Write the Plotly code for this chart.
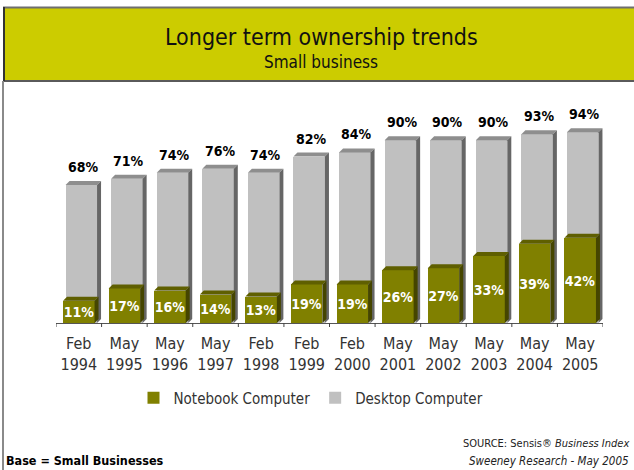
import plotly.graph_objects as go

# --- data -------------------------------------------------------------
periods = ["Feb<br>1994", "May<br>1995", "May<br>1996", "May<br>1997", "Feb<br>1998",
           "Feb<br>1999", "Feb<br>2000", "May<br>2001", "May<br>2002", "May<br>2003",
           "May<br>2004", "May<br>2005"]
notebook = [11, 17, 16, 14, 13, 19, 19, 26, 27, 33, 39, 42]
desktop = [68, 71, 74, 76, 74, 82, 84, 90, 90, 90, 93, 94]

# --- page geometry (pixels) ---------------------------------------------
FW, FH = 634, 470
L, R, T, B = 56, 31, 120, 147
PW, PH = FW - L - R, FH - T - B
YMAX = 100.0


def px_x(px):
    return (px - L) / PW


def px_y(py):
    return (FH - B - py) / PH


FONT = "Liberation Sans Narrow, DejaVu Sans Condensed, Arial Narrow, sans-serif"

# 3D look: depth of the extruded faces, expressed in data units
n = len(periods)
xs = list(range(n))
unit_x = PW / n            # px per category
unit_y = PH / YMAX         # px per percent
DX = 4 / unit_x
DY = 4 / unit_y
BW = 31.5 / unit_x         # bar width
BACK = 2.5 / unit_x        # desktop series sits slightly behind

C_NB = dict(front="#808000", top="#5f5f00", side="#454500")
C_DT = dict(front="#c0c0c0", top="#8e8e8e", side="#666666")

fig = go.Figure()

# front faces
fig.add_trace(go.Bar(
    x=[i + BACK for i in xs], y=desktop, width=BW, name="Desktop Computer",
    marker=dict(color=C_DT["front"], line=dict(width=0)), hoverinfo="skip",
))
fig.add_trace(go.Bar(
    x=xs, y=notebook, width=BW, name="Notebook Computer",
    marker=dict(color=C_NB["front"], line=dict(width=0)),
    text=[f"<b>{v}%</b>" for v in notebook], textposition="inside",
    insidetextanchor="middle", textangle=0, constraintext="none",
    textfont=dict(color="white", size=14, family=FONT), hoverinfo="skip",
))


def add_faces(centers, values, colors):
    for c, v in zip(centers, values):
        x0, x1 = c - BW / 2, c + BW / 2
        # top face
        fig.add_trace(go.Scatter(
            x=[x0, x1, x1 + DX, x0 + DX, x0], y=[v, v, v + DY, v + DY, v],
            mode="lines", fill="toself", fillcolor=colors["top"],
            line=dict(width=0, color=colors["top"]), showlegend=False, hoverinfo="skip",
        ))
        # side face
        fig.add_trace(go.Scatter(
            x=[x1, x1 + DX, x1 + DX, x1, x1], y=[0, DY, v + DY, v, 0],
            mode="lines", fill="toself", fillcolor=colors["side"],
            line=dict(width=0, color=colors["side"]), showlegend=False, hoverinfo="skip",
        ))


add_faces([i + BACK for i in xs], desktop, C_DT)
add_faces(xs, notebook, C_NB)

# totals above the desktop bars
annotations = []
for i, v in zip(xs, desktop):
    annotations.append(dict(
        x=i + BACK + DX / 2, y=v, xref="x", yref="y", text=f"<b>{v}%</b>",
        showarrow=False, yanchor="bottom", yshift=8,
        font=dict(family=FONT, size=14, color="black"),
    ))

# header and footer texts
annotations += [
    dict(x=px_x(321), y=px_y(37), xref="paper", yref="paper",
         text="Longer term ownership trends", showarrow=False,
         font=dict(family=FONT, size=23, color="#111111"), xanchor="center", yanchor="middle"),
    dict(x=px_x(321), y=px_y(62), xref="paper", yref="paper",
         text="Small business", showarrow=False,
         font=dict(family=FONT, size=17, color="#111111"), xanchor="center", yanchor="middle"),
    dict(x=px_x(4), y=px_y(461), xref="paper", yref="paper",
         text="<b>Base = Small Businesses</b>", showarrow=False,
         font=dict(family=FONT, size=12.5, color="black"), xanchor="left", yanchor="middle"),
    dict(x=px_x(631), y=px_y(443), xref="paper", yref="paper",
         text="SOURCE: Sensis® <i>Business Index</i>", showarrow=False,
         font=dict(family=FONT, size=11, color="#222222"), xanchor="right", yanchor="middle"),
    dict(x=px_x(631), y=px_y(461), xref="paper", yref="paper",
         text="<i>Sweeney Research - May 2005</i>", showarrow=False,
         font=dict(family=FONT, size=11.5, color="#222222"), xanchor="right", yanchor="middle"),
]

shapes = [
    # header band
    dict(type="rect", xref="paper", yref="paper", layer="below",
         x0=px_x(4), x1=px_x(FW + 2), y0=px_y(81), y1=px_y(8),
         fillcolor="#cccc00", line=dict(width=0)),
    dict(type="line", xref="paper", yref="paper",
         x0=px_x(3), x1=px_x(FW + 2), y0=px_y(7.5), y1=px_y(7.5),
         line=dict(color="#6e6e6e", width=2)),
    dict(type="line", xref="paper", yref="paper",
         x0=px_x(3), x1=px_x(FW + 2), y0=px_y(81), y1=px_y(81),
         line=dict(color="#5a5a5a", width=2)),
    dict(type="line", xref="paper", yref="paper",
         x0=px_x(3), x1=px_x(3), y0=px_y(81), y1=px_y(FH + 2),
         line=dict(color="#8a8a8a", width=2)),
    dict(type="line", xref="paper", yref="paper",
         x0=px_x(4), x1=px_x(4), y0=px_y(7), y1=px_y(81),
         line=dict(color="#333333", width=2)),
]

# short tick marks on the category boundaries, just under the axis line
for k in range(n + 1):
    b = k - 0.5
    shapes.append(dict(type="line", xref="x", yref="paper", ysizemode="pixel", yanchor=0,
                       x0=b, x1=b, y0=0, y1=-4, line=dict(color="#444444", width=1)))

fig.update_layout(
    width=FW, height=FH,
    margin=dict(l=L, r=R, t=T, b=B, pad=0),
    paper_bgcolor="white", plot_bgcolor="white",
    barmode="overlay", bargap=0,
    showlegend=True,
    legend=dict(orientation="h", x=px_x(311), xanchor="center", y=px_y(398), yanchor="middle",
                font=dict(family=FONT, size=15, color="#333333"), traceorder="reversed",
                itemwidth=30),
    xaxis=dict(range=[-0.5, n - 0.5], tickvals=xs, ticktext=periods, ticks="",
               showline=True, linecolor="#555555", linewidth=1, showgrid=False, zeroline=False,
               ticklabelstandoff=6,
               tickfont=dict(family=FONT, size=16, color="#333333")),
    yaxis=dict(range=[0, YMAX], visible=False, showgrid=False, zeroline=False),
    annotations=annotations,
    shapes=shapes,
)

fig.write_html("out.html")
